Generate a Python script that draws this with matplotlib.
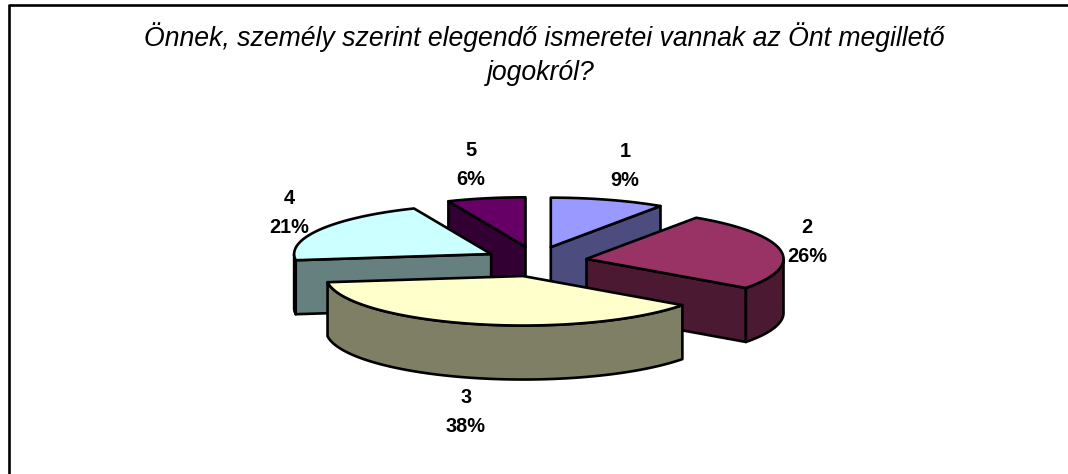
import numpy as np
import matplotlib
matplotlib.use("Agg")
import matplotlib.pyplot as plt
from matplotlib.patches import Polygon

labels = ["1", "2", "3", "4", "5"]
values = [9.4, 25.6, 38.0, 20.6, 6.4]
top_colors = ["#9999FF", "#993366", "#FFFFCC", "#CCFFFF", "#660066"]
side_colors = ["#4C4C7F", "#4C1933", "#7F7F66", "#667F7F", "#330033"]
title_lines = ["Önnek, személy szerint elegendő ismeretei vannak az Önt megillető", "jogokról?"]

# pie geometry in pixels
cx, cy = 535.8, 261.5
rx, ry = 197, 49.5
ex, ey = 51.5, 15
depth = 54
lw = 1.9

label_pos = [(625, 166), (807, 242), (466, 412), (289, 213), (471, 165)]

fig = plt.figure(figsize=(10.68, 4.74), dpi=100)
ax = fig.add_axes([0, 0, 1, 1])
ax.set_xlim(0, 1068)
ax.set_ylim(474, 0)
ax.axis("off")

# frame only has top and left
ax.plot([8.5, 1068], [4.5, 4.5], color="black", lw=1.9, solid_capstyle="butt")
ax.plot([8.5, 8.5], [3.5, 474], color="black", lw=1.9, solid_capstyle="butt")

ax.text(544.5, 46, title_lines[0], ha="center", va="baseline", style="italic",
        family="Liberation Sans", fontsize=19.2)
ax.text(541, 80, title_lines[1], ha="center", va="baseline", style="italic",
        family="Liberation Sans", fontsize=19.2)

stops = np.cumsum([0] + values) / sum(values) * 2 * np.pi


def edge(a, ox, oy):
    return ox + rx * np.sin(a), oy - ry * np.cos(a)


def draw_slice(i):
    a0, a1 = stops[i], stops[i + 1]
    mid = (a0 + a1) / 2
    ox = cx + ex * np.sin(mid)
    oy = cy - ey * np.cos(mid)

    def face(a):
        x, y = edge(a, ox, oy)
        pts = [(ox, oy), (x, y), (x, y + depth), (ox, oy + depth)]
        ax.add_patch(Polygon(pts, closed=True, fc=side_colors[i], ec="black", lw=lw, joinstyle="round"))

    # only the faces turned to the viewer
    if np.sin(a0) < 0:
        face(a0)
    if np.sin(a1) > 0:
        face(a1)

    w0, w1 = max(a0, np.pi / 2), min(a1, 3 * np.pi / 2)
    if w1 > w0:
        t = np.linspace(w0, w1, 80)
        xs, ys = edge(t, ox, oy)
        pts = list(zip(xs, ys)) + list(zip(xs[::-1], ys[::-1] + depth))
        ax.add_patch(Polygon(pts, closed=True, fc=side_colors[i], ec="black", lw=lw, joinstyle="round"))

    t = np.linspace(a0, a1, 120)
    xs, ys = edge(t, ox, oy)
    pts = [(ox, oy)] + list(zip(xs, ys))
    ax.add_patch(Polygon(pts, closed=True, fc=top_colors[i], ec="black", lw=lw, joinstyle="round"))


# back to front
for i in [4, 0, 3, 1, 2]:
    draw_slice(i)

for lab, val, (x, y) in zip(labels, values, label_pos):
    ax.text(x, y, "{}\n{:.0f}%".format(lab, val), ha="center", va="center", weight="bold",
            family="Liberation Sans", fontsize=14.4, linespacing=1.65, zorder=5)

fig.savefig("out.png", dpi=100)
